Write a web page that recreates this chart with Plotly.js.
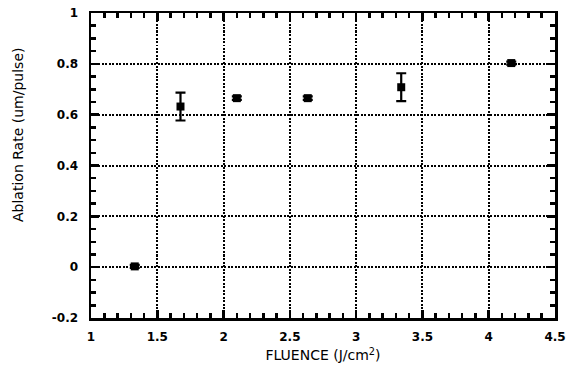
<!DOCTYPE html>
<html>
<head>
<meta charset="utf-8">
<script src="https://cdn.plot.ly/plotly-3.0.1.min.js"></script>
<style>html,body{margin:0;padding:0;background:#fff;}#chart{width:572px;height:370px;}</style>
</head>
<body>
<div id="chart"></div>
<script>
const fluence = [1.33, 1.675, 2.10, 2.635, 3.34, 4.17];
const ablationRate = [0.003, 0.632, 0.665, 0.665, 0.708, 0.803];
const errorPlus = [0.006, 0.055, 0.007, 0.007, 0.055, 0.006];
const xTickVals = [1, 1.5, 2, 2.5, 3, 3.5, 4, 4.5];
const xTickText = ['1', '1.5', '2', '2.5', '3', '3.5', '4', '4.5'];
const yTickVals = [-0.2, 0, 0.2, 0.4, 0.6, 0.8, 1];
const yTickText = ['-0.2', '0', '0.2', '0.4', '0.6', '0.8', '1'];
const xTitle = 'FLUENCE (J/cm<sup>2</sup>)';
const yTitle = 'Ablation Rate (um/pulse)';

const tickFont = {family: 'DejaVu Sans, sans-serif', size: 12, color: '#000', weight: 'bold'};
const titleFont = {family: 'DejaVu Sans, sans-serif', size: 14, color: '#000'};

const trace = {
  x: fluence, y: ablationRate, type: 'scatter', mode: 'markers',
  marker: {symbol: 'square', size: 8, color: '#000'},
  error_y: {type: 'data', array: errorPlus, visible: true, color: '#000', thickness: 2.2, width: 5},
  hoverinfo: 'skip'
};

const axisCommon = {
  showline: true, linecolor: '#000', linewidth: 2.5, mirror: 'allticks',
  ticks: 'inside', ticklen: 8, tickwidth: 2.5, tickcolor: '#000',
  showgrid: true, gridcolor: '#000', gridwidth: 2, griddash: '2px,1.5px',
  zeroline: false, tickfont: tickFont, tickmode: 'array'
};

const layout = {
  width: 572, height: 370,
  margin: {l: 91, r: 17, t: 13, b: 52},
  paper_bgcolor: '#fff', plot_bgcolor: '#fff',
  showlegend: false, font: {family: 'DejaVu Sans, sans-serif', size: 12, color: '#000'},
  xaxis: Object.assign({}, axisCommon, {
    range: [1, 4.5], tickvals: xTickVals, ticktext: xTickText, ticklabelstandoff: 6,
    minor: {dtick: 0.1, ticks: 'inside', ticklen: 5, tickwidth: 2.5, tickcolor: '#000', showgrid: false},
    title: {text: xTitle, font: titleFont, standoff: 8}
  }),
  yaxis: Object.assign({}, axisCommon, {
    range: [-0.2, 1], tickvals: yTickVals, ticktext: yTickText, ticklabelstandoff: 8,
    minor: {dtick: 0.05, ticks: 'inside', ticklen: 5, tickwidth: 2.5, tickcolor: '#000', showgrid: false}
  }),
  annotations: [{
    text: yTitle, textangle: -90, showarrow: false,
    xref: 'paper', yref: 'paper', x: (18 - 91) / 464, y: (318 - 135) / 305,
    xanchor: 'center', yanchor: 'middle', font: titleFont
  }]
};

Plotly.newPlot('chart', [trace], layout, {displayModeBar: false, staticPlot: true});
</script>
</body>
</html>
